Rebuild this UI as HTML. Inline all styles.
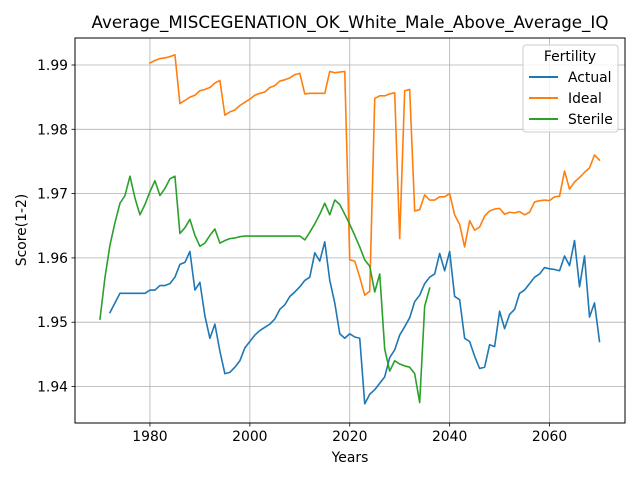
<!DOCTYPE html>
<html><head><meta charset="utf-8"><style>
body{margin:0;background:#fff;}
svg{display:block;font-family:"DejaVu Sans","Liberation Sans",sans-serif;}
</style></head><body>
<svg id="chart" width="640" height="480" viewBox="0 0 640 480">
<rect width="640" height="480" fill="#fff"/>
<text x="350" y="28" font-size="16.7" text-anchor="middle">Average_MISCEGENATION_OK_White_Male_Above_Average_IQ</text>
<g id="grid"></g>
<g id="series"></g>
<rect x="75" y="38" width="550" height="385" fill="none" stroke="#000" stroke-width="1"/>
<g id="ticks"></g>
<text x="350" y="462" font-size="13.9" text-anchor="middle">Years</text>
<text x="26" y="230" font-size="13.9" text-anchor="middle" transform="rotate(-90 26 230)">Score(1-2)</text>
<g>
<rect x="523" y="45" width="95" height="87" rx="3" fill="#fff" fill-opacity="0.8" stroke="#ccc"/>
<text x="570" y="61" font-size="13.9" text-anchor="middle">Fertility</text>
<g><line x1="529" y1="77" x2="558" y2="77" stroke="#1f77b4" stroke-width="2"/><text x="568" y="82" font-size="13.9">Actual</text></g>
<g><line x1="529" y1="98" x2="558" y2="98" stroke="#ff7f0e" stroke-width="2"/><text x="568" y="103" font-size="13.9">Ideal</text></g>
<g><line x1="529" y1="119" x2="558" y2="119" stroke="#2ca02c" stroke-width="2"/><text x="568" y="124" font-size="13.9">Sterile</text></g>
</g>
</svg>
<script>
const xTicks=[1980,2000,2020,2040,2060];
const yTicks=[1.94,1.95,1.96,1.97,1.98,1.99];
const yTickLabels=["1.94","1.95","1.96","1.97","1.98","1.99"];
const actualStart=1972;
const actualValues=[1.9515,1.953,1.9545,1.9545,1.9545,1.9545,1.9545,1.9545,1.955,1.955,1.9557,1.9557,1.956,1.957,1.959,1.9593,1.961,1.955,1.9562,1.951,1.9475,1.9497,1.9455,1.942,1.9422,1.943,1.944,1.946,1.947,1.948,1.9487,1.9492,1.9497,1.9505,1.952,1.9527,1.954,1.9547,1.9555,1.9565,1.957,1.9608,1.9595,1.9625,1.9565,1.953,1.9482,1.9475,1.9482,1.9477,1.9475,1.9373,1.9388,1.9395,1.9405,1.9415,1.9445,1.9457,1.948,1.9493,1.9507,1.9532,1.9542,1.956,1.957,1.9575,1.9607,1.958,1.961,1.954,1.9535,1.9475,1.947,1.9447,1.9428,1.943,1.9465,1.9462,1.9517,1.949,1.9512,1.952,1.9545,1.955,1.956,1.957,1.9575,1.9585,1.9583,1.9582,1.958,1.9603,1.9588,1.9627,1.9555,1.9603,1.9508,1.953,1.947];
const idealStart=1980;
const idealValues=[1.9903,1.9907,1.991,1.9911,1.9913,1.9916,1.984,1.9845,1.985,1.9853,1.986,1.9862,1.9865,1.9872,1.9876,1.9822,1.9827,1.983,1.9837,1.9842,1.9847,1.9853,1.9856,1.9858,1.9865,1.9868,1.9875,1.9877,1.988,1.9885,1.9887,1.9855,1.9856,1.9856,1.9856,1.9856,1.989,1.9888,1.9889,1.989,1.9597,1.9595,1.957,1.9542,1.9548,1.9848,1.9852,1.9852,1.9855,1.9857,1.963,1.986,1.9862,1.9673,1.9675,1.9698,1.969,1.969,1.9695,1.9695,1.97,1.9667,1.9652,1.9617,1.9658,1.9643,1.9648,1.9665,1.9673,1.9676,1.9677,1.9668,1.9671,1.967,1.9672,1.9667,1.9671,1.9687,1.9689,1.969,1.9689,1.9695,1.9696,1.9735,1.9707,1.9718,1.9725,1.9733,1.974,1.976,1.9752];
const sterileStart=1970;
const sterileValues=[1.9505,1.957,1.962,1.9655,1.9685,1.9697,1.9727,1.9693,1.9667,1.9683,1.9703,1.972,1.9697,1.9708,1.9723,1.9727,1.9638,1.9647,1.966,1.9635,1.9618,1.9623,1.9635,1.9645,1.9623,1.9627,1.963,1.9631,1.9633,1.9634,1.9634,1.9634,1.9634,1.9634,1.9634,1.9634,1.9634,1.9634,1.9634,1.9634,1.9634,1.9628,1.964,1.9653,1.9668,1.9685,1.9667,1.969,1.9683,1.9668,1.9652,1.9635,1.9617,1.9597,1.9587,1.9547,1.9575,1.9458,1.9424,1.944,1.9435,1.9432,1.943,1.942,1.9375,1.9525,1.9553];

const NS="http://www.w3.org/2000/svg";
function xs(yr){return 100+(yr-1970)*4.995;}
function ys(v){return 65+(1.99-v)*6430;}
const grid=document.getElementById('grid'),ticks=document.getElementById('ticks'),ser=document.getElementById('series');
function mk(tag,attrs,parent){const e=document.createElementNS(NS,tag);for(const k in attrs)e.setAttribute(k,attrs[k]);parent.appendChild(e);return e;}
xTicks.forEach(t=>{
  const x=xs(t);
  const g=mk('line',{x1:x,x2:x,y1:38,y2:423,stroke:'#b0b0b0','stroke-width':0.8},grid);
  
  
  mk('line',{x1:x,x2:x,y1:423,y2:426.5,stroke:'#000','stroke-width':0.8},ticks);
  const tx=mk('text',{x:x,y:441,'font-size':13.9,'text-anchor':'middle'},ticks);
  tx.textContent=t;
  
  
});
yTicks.forEach((t,i)=>{
  const y=ys(t);
  const g=mk('line',{x1:75,x2:625,y1:y,y2:y,stroke:'#b0b0b0','stroke-width':0.8},grid);
  
  
  mk('line',{x1:71.5,x2:75,y1:y,y2:y,stroke:'#000','stroke-width':0.8},ticks);
  const tx=mk('text',{x:68,y:y+5,'font-size':13.9,'text-anchor':'end'},ticks);
  tx.textContent=yTickLabels[i];
  
  
});
function line(start,vals,color,name){
  const pts=vals.map((v,i)=>xs(start+i).toFixed(2)+','+ys(v).toFixed(2)).join(' ');
  const p=mk('polyline',{points:pts,fill:'none',stroke:color,'stroke-width':1.6,'stroke-linejoin':'round','stroke-linecap':'square'},ser);
  
  
}
line(actualStart,actualValues,'#1f77b4','actual-line');
line(idealStart,idealValues,'#ff7f0e','ideal-line');
line(sterileStart,sterileValues,'#2ca02c','sterile-line');
</script>
</body></html>
